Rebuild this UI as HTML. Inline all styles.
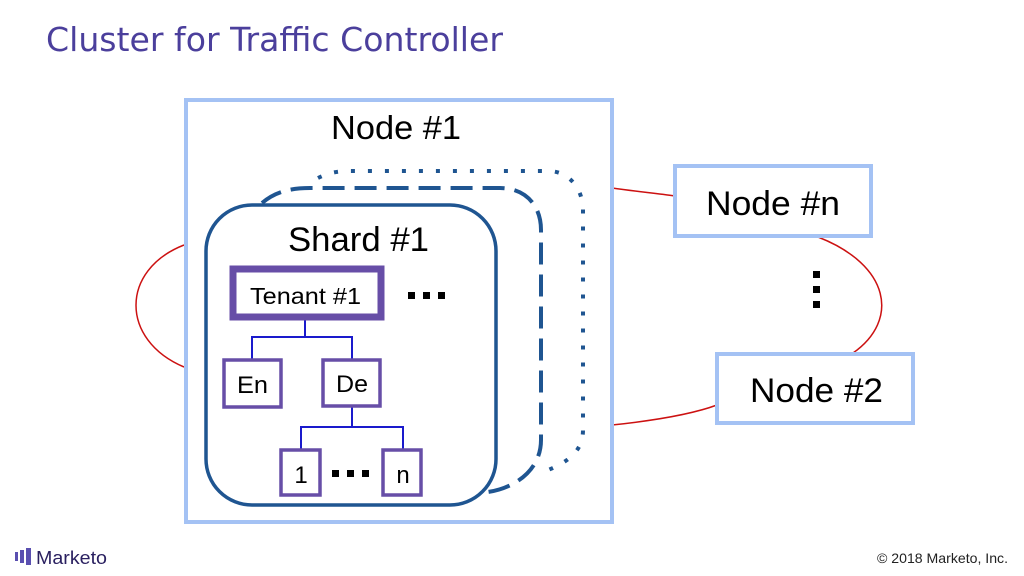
<!DOCTYPE html>
<html><head><meta charset="utf-8"><style>
html,body{margin:0;padding:0;background:#fff;}
svg{display:block;font-family:"Liberation Sans",Arial,sans-serif;}
</style></head><body>
<svg width="1024" height="576" viewBox="0 0 1024 576" xmlns="http://www.w3.org/2000/svg" font-family="Liberation Sans, Arial, sans-serif">
<rect width="1024" height="576" fill="#fff"/>
<text x="46" y="51" font-size="33" fill="#4b3f9c" textLength="457" lengthAdjust="spacingAndGlyphs" font-family="DejaVu Sans, sans-serif">Cluster for Traffic Controller</text>

<g fill="none" stroke="#cc1111" stroke-width="1.5">
<path d="M184,245 C120,270 120,340 184,367"/>
<path d="M612,188 C640,192 655,193 675,196"/>
<path d="M612,425 C650,421 690,415 717,405"/>
<path d="M818,237 C890,265 900,320 853,353"/>
</g>

<rect x="186" y="100" width="426" height="422" fill="none" stroke="#a4c2f4" stroke-width="4"/>
<text x="331" y="139" font-size="33" fill="#000" textLength="130" lengthAdjust="spacingAndGlyphs">Node #1</text>
<rect x="675" y="166" width="196" height="70" fill="#fff" stroke="#a4c2f4" stroke-width="4"/>
<text x="706" y="215" font-size="34" fill="#000" textLength="134" lengthAdjust="spacingAndGlyphs">Node #n</text>
<rect x="717" y="354" width="196" height="69" fill="#fff" stroke="#a4c2f4" stroke-width="4"/>
<text x="750" y="402" font-size="34" fill="#000" textLength="133" lengthAdjust="spacingAndGlyphs">Node #2</text>
<rect x="813" y="271" width="7" height="7" fill="#000"/>
<rect x="813" y="286" width="7" height="7" fill="#000"/>
<rect x="813" y="301" width="7" height="7" fill="#000"/>

<path d="M318,178 C330,172 340,171 350,171 L548,171 C570,171 583,190 583,210 L583,430 C583,450 570,462 543,472" fill="none" stroke="#1f5591" stroke-width="4" stroke-dasharray="4,13"/>
<path d="M262,203 C275,192 290,188 310,188 L500,188 C525,188 541,205 541,230 L541,440 C541,470 515,488 488,492" fill="none" stroke="#1f5591" stroke-width="4" stroke-dasharray="22,10"/>

<rect x="206" y="205" width="290" height="300" rx="46" ry="46" fill="#fff" stroke="#1f5591" stroke-width="3.5"/>
<text x="288" y="251" font-size="34" fill="#000" textLength="141" lengthAdjust="spacingAndGlyphs">Shard #1</text>

<g fill="none" stroke="#1a1acc" stroke-width="2">
<path d="M305,318 V337 M252,359 V337 H352 V359"/>
<path d="M352,407 V427 M301,449 V427 H403 V449"/>
</g>

<rect x="233" y="269" width="148" height="48" fill="#fff" stroke="#674ea7" stroke-width="7"/>
<text x="250" y="304" font-size="23" fill="#000" textLength="111" lengthAdjust="spacingAndGlyphs">Tenant #1</text>
<rect x="408" y="292" width="7" height="7" fill="#000"/>
<rect x="423" y="292" width="7" height="7" fill="#000"/>
<rect x="438" y="292" width="7" height="7" fill="#000"/>

<rect x="224" y="360" width="57" height="47" fill="#fff" stroke="#674ea7" stroke-width="3.5"/>
<text x="237" y="393" font-size="24" fill="#000" textLength="31" lengthAdjust="spacingAndGlyphs">En</text>
<rect x="323" y="360" width="57" height="46" fill="#fff" stroke="#674ea7" stroke-width="3.5"/>
<text x="336" y="392" font-size="24" fill="#000" textLength="32" lengthAdjust="spacingAndGlyphs">De</text>
<rect x="281" y="450" width="39" height="45" fill="#fff" stroke="#674ea7" stroke-width="3.5"/>
<text x="301" y="483" font-size="24" text-anchor="middle" fill="#000">1</text>
<rect x="383" y="450" width="38" height="45" fill="#fff" stroke="#674ea7" stroke-width="3.5"/>
<text x="403" y="483" font-size="24" text-anchor="middle" fill="#000">n</text>
<rect x="332" y="470" width="7" height="7" fill="#000"/>
<rect x="347" y="470" width="7" height="7" fill="#000"/>
<rect x="362" y="470" width="7" height="7" fill="#000"/>

<g fill="#5a4fb0">
<rect x="15" y="552" width="3" height="9"/>
<rect x="20" y="550" width="4" height="13"/>
<rect x="26" y="548" width="5" height="17"/>
</g>
<text x="36" y="564" font-size="18" fill="#2a2060" textLength="71" lengthAdjust="spacingAndGlyphs">Marketo</text>
<text x="877" y="563" font-size="14" fill="#222" textLength="131" lengthAdjust="spacingAndGlyphs">© 2018 Marketo, Inc.</text>
</svg>
</body></html>
